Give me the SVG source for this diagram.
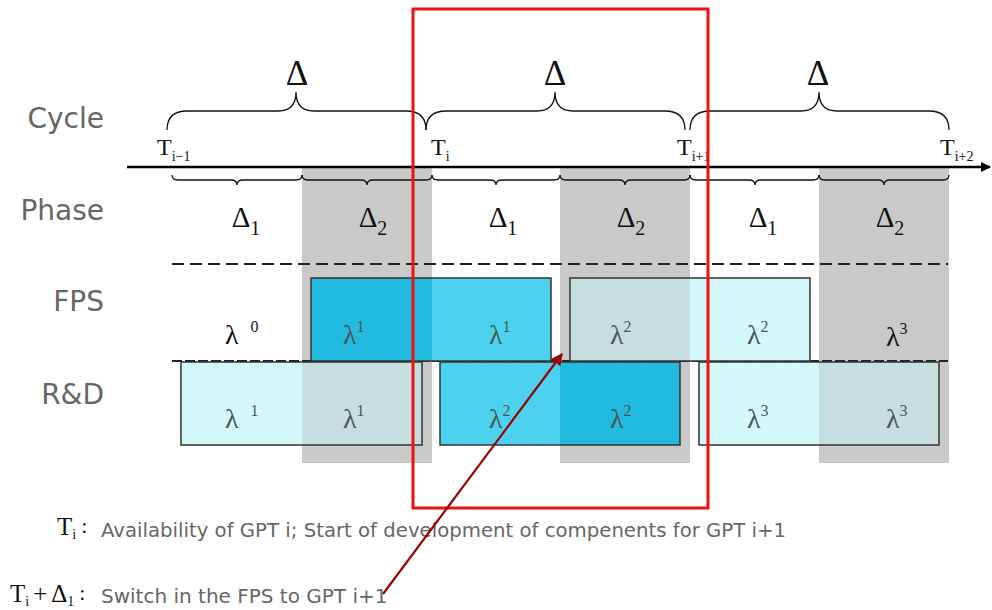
<svg xmlns="http://www.w3.org/2000/svg" width="992" height="610" viewBox="0 0 992 610">
<style>
.lbl{font-family:"DejaVu Sans",Verdana,sans-serif;font-size:28px;fill:#666;text-anchor:end}
.note{font-family:"DejaVu Sans",Verdana,sans-serif;font-size:20px;fill:#666}
.serif{font-family:"Liberation Serif","Times New Roman",serif;fill:#111}
.big{font-size:35px;text-anchor:middle}
.T{font-size:24px}
.sub{font-size:14px}
.ph{font-size:29px;text-anchor:middle}
.lam{font-family:"Liberation Serif","Times New Roman",serif;font-size:28px;fill:#4a5656}
.lamk{font-family:"Liberation Serif","Times New Roman",serif;font-size:28px;fill:#111}
.brace{fill:none;stroke:#111;stroke-width:1.3}
.gray{fill:#c9c9c9}
.box{fill:none;stroke:#333;stroke-width:1.5}
.sw{fill:#4cd2ef}
.sg{fill:#22bade}
.lw{fill:#d4f8fa}
.lg{fill:#c6dedf}
</style>
<defs>
<marker id="ah" viewBox="0 0 10 10" refX="9" refY="5" markerWidth="10" markerHeight="10" markerUnits="userSpaceOnUse" orient="auto">
<path d="M0,0 L10,5 L0,10 z" fill="#000"/>
</marker>
<marker id="rh" viewBox="0 0 10 10" refX="9" refY="5" markerWidth="12" markerHeight="12" markerUnits="userSpaceOnUse" orient="auto">
<path d="M0,0 L10,5 L0,10 z" fill="#9a0000"/>
</marker>
</defs>

<g id="phase-bands">
<rect class="gray" x="302" y="167" width="130" height="296"/>
<rect class="gray" x="560" y="167" width="130" height="296"/>
<rect class="gray" x="819" y="167" width="130" height="296"/>
</g>

<g id="row-labels">
<text class="lbl" x="104" y="128">Cycle</text>
<text class="lbl" x="104" y="220">Phase</text>
<text class="lbl" x="104" y="311">FPS</text>
<text class="lbl" x="104" y="404">R&amp;D</text>
</g>

<g id="axis">
<line x1="127" y1="167" x2="990" y2="167" stroke="#000" stroke-width="2.5" marker-end="url(#ah)"/>
</g>

<g id="cycle-braces">
<path class="brace" d="M167,130 Q167,111 187,111 L278,111 Q296,111 296,92 Q296,111 314,111 L406,111 Q426,111 426,130"/>
<path class="brace" d="M426,130 Q426,111 446,111 L537,111 Q555,111 555,92 Q555,111 573,111 L665,111 Q685,111 685,130"/>
<path class="brace" d="M690,130 Q690,111 710,111 L801,111 Q819,111 819,92 Q819,111 837,111 L929,111 Q949,111 949,130"/>
<text class="serif big" x="297" y="85">Δ</text>
<text class="serif big" x="555" y="85">Δ</text>
<text class="serif big" x="818" y="85">Δ</text>
</g>

<g id="time-labels">
<text class="serif T" x="157" y="155">T<tspan class="sub" dy="6">i−1</tspan></text>
<text class="serif T" x="431" y="155">T<tspan class="sub" dy="6">i</tspan></text>
<text class="serif T" x="677" y="155">T<tspan class="sub" dy="6">i+1</tspan></text>
<text class="serif T" x="940" y="155">T<tspan class="sub" dy="6">i+2</tspan></text>
</g>

<g id="phase-braces">
<path class="brace" d="M172,175 Q172,180 178,180 L231,180 Q237,180 237,185 Q237,180 243,180 L296,180 Q302,180 302,175"/>
<path class="brace" d="M302,175 Q302,180 308,180 L361,180 Q367,180 367,185 Q367,180 373,180 L426,180 Q432,180 432,175"/>
<path class="brace" d="M432,175 Q432,180 438,180 L490,180 Q496,180 496,185 Q496,180 502,180 L554,180 Q560,180 560,175"/>
<path class="brace" d="M560,175 Q560,180 566,180 L619,180 Q625,180 625,185 Q625,180 631,180 L684,180 Q690,180 690,175"/>
<path class="brace" d="M690,175 Q690,180 696,180 L749,180 Q755,180 755,185 Q755,180 761,180 L813,180 Q819,180 819,175"/>
<path class="brace" d="M819,175 Q819,180 825,180 L878,180 Q884,180 884,185 Q884,180 890,180 L943,180 Q949,180 949,175"/>
<text class="serif ph" x="246" y="227">Δ<tspan font-size="20" dy="8">1</tspan></text>
<text class="serif ph" x="373" y="227">Δ<tspan font-size="20" dy="8">2</tspan></text>
<text class="serif ph" x="503" y="227">Δ<tspan font-size="20" dy="8">1</tspan></text>
<text class="serif ph" x="631" y="227">Δ<tspan font-size="20" dy="8">2</tspan></text>
<text class="serif ph" x="763" y="227">Δ<tspan font-size="20" dy="8">1</tspan></text>
<text class="serif ph" x="890" y="227">Δ<tspan font-size="20" dy="8">2</tspan></text>
</g>

<g id="separators">
<line x1="172" y1="264" x2="948" y2="264" stroke="#222" stroke-width="2" stroke-dasharray="12 6"/>
<line x1="172" y1="361" x2="948" y2="361" stroke="#222" stroke-width="2" stroke-dasharray="10 3"/>
</g>

<g id="fps-lambda0">
<text class="lamk" x="225" y="344">λ<tspan font-size="16" dx="12" dy="-12">0</tspan></text>
</g>

<g id="fps-box1">
<rect class="sg" x="311" y="278" width="121" height="83"/>
<rect class="sw" x="432" y="278" width="119" height="83"/>
<rect class="box" x="311" y="278" width="240" height="83"/>
<text class="lam" x="343" y="344">λ<tspan font-size="16" dy="-12">1</tspan></text>
<text class="lam" x="489" y="344">λ<tspan font-size="16" dy="-12">1</tspan></text>
</g>

<g id="fps-box2">
<rect class="lg" x="570" y="278" width="120" height="83"/>
<rect class="lw" x="690" y="278" width="120" height="83"/>
<rect class="box" x="570" y="278" width="240" height="83"/>
<text class="lam" x="610" y="344">λ<tspan font-size="16" dy="-12">2</tspan></text>
<text class="lam" x="747" y="344">λ<tspan font-size="16" dy="-12">2</tspan></text>
</g>

<g id="fps-lambda3">
<text class="lamk" x="886" y="346">λ<tspan font-size="16" dy="-12">3</tspan></text>
</g>

<g id="rd-box1">
<rect class="lw" x="181" y="362" width="121" height="83"/>
<rect class="lg" x="302" y="362" width="120" height="83"/>
<rect class="box" x="181" y="362" width="241" height="83"/>
<text class="lam" x="225" y="428">λ<tspan font-size="16" dx="12" dy="-12">1</tspan></text>
<text class="lam" x="343" y="428">λ<tspan font-size="16" dy="-12">1</tspan></text>
</g>

<g id="rd-box2">
<rect class="sw" x="440" y="362" width="120" height="83"/>
<rect class="sg" x="560" y="362" width="120" height="83"/>
<rect class="box" x="440" y="362" width="240" height="83"/>
<text class="lam" x="489" y="428">λ<tspan font-size="16" dy="-12">2</tspan></text>
<text class="lam" x="610" y="428">λ<tspan font-size="16" dy="-12">2</tspan></text>
</g>

<g id="rd-box3">
<rect class="lw" x="699" y="362" width="120" height="83"/>
<rect class="lg" x="819" y="362" width="120" height="83"/>
<rect class="box" x="699" y="362" width="240" height="83"/>
<text class="lam" x="747" y="428">λ<tspan font-size="16" dy="-12">3</tspan></text>
<text class="lam" x="886" y="428">λ<tspan font-size="16" dy="-12">3</tspan></text>
</g>

<g id="focus-frame">
<rect x="413" y="9" width="295" height="499" fill="none" stroke="#ee1111" stroke-width="3"/>
</g>

<g id="notes">
<text class="serif" x="57" y="535" font-size="25">T<tspan font-size="14" dy="4">i</tspan><tspan font-size="22" dx="5" dy="-6">:</tspan></text>
<text class="note" x="101" y="537" textLength="685" lengthAdjust="spacingAndGlyphs">Availability of GPT i; Start of development of compenents for GPT i+1</text>
<text class="serif" x="10" y="602" font-size="25">T<tspan font-size="14" dy="4">i</tspan><tspan dx="4" dy="-4">+</tspan><tspan dx="4">Δ</tspan><tspan font-size="14" dy="4">1</tspan><tspan font-size="22" dx="5" dy="-6">:</tspan></text>
<text class="note" x="101" y="603">Switch in the FPS to GPT i+1</text>
</g>

<g id="connectors">
<line x1="383" y1="594" x2="562" y2="354" stroke="#9a0000" stroke-width="2.2" marker-end="url(#rh)"/>
</g>
</svg>
